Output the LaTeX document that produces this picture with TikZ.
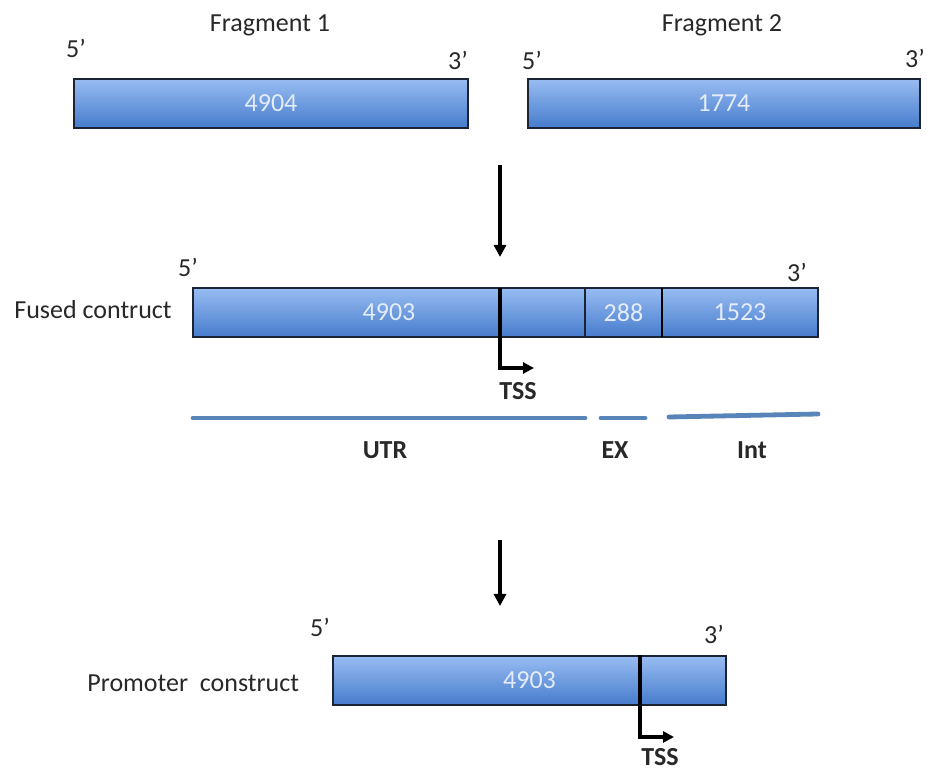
\documentclass[tikz,border=0pt]{standalone}
\usepackage{fontspec}
\setmainfont{Carlito}
\usetikzlibrary{arrows.meta,positioning}
\definecolor{segtop}{RGB}{152,188,242}
\definecolor{segbot}{RGB}{70,124,204}
\definecolor{segedge}{RGB}{28,36,52}
\definecolor{segtext}{RGB}{228,236,248}
\definecolor{track}{RGB}{88,132,186}
\definecolor{ink}{RGB}{40,40,40}

\tikzset{
  segment/.style={draw=segedge, line width=0.75pt, top color=segtop, bottom color=segbot,
    minimum height=24.5pt, inner sep=0pt, outer sep=0pt, text=segtext},
  tag/.style={inner sep=0pt, text=ink},
  feature/.style={inner sep=0pt, text=ink, font=\fontsize{13}{15}\selectfont\bfseries},
  tssmark/.style={line width=1.8pt, -{Triangle[length=5.5pt,width=5.5pt]}},
  divider/.style={line width=1.4pt},
  flow/.style={line width=1.8pt, -{Triangle[length=6pt,width=6pt]}},
  trackline/.style={track, line width=2.4pt, line cap=round}
}

\begin{document}
\begin{tikzpicture}[x=0.5pt, y=-0.5pt, font=\fontsize{13}{15}\selectfont]
  \useasboundingbox (0,0) rectangle (927,769);

  % two fragments
  \node[tag] (fragAname) at (270,25) {Fragment 1};
  \node[tag] (fragBname) at (722,25) {Fragment 2};
  \node[tag] (fragAfive) at (76,48) {5’};
  \node[tag] (fragAthree) at (458,60) {3’};
  \node[tag] (fragBfive) at (532,60) {5’};
  \node[tag] (fragBthree) at (915,58) {3’};
  \node[segment, minimum width=197pt] (fragA) at (271,103.5) {4904};
  \node[segment, minimum width=196pt] (fragB) at (724,103.5) {1774};

  \coordinate (flowAtop) at (500,165);
  \coordinate (flowAbot) at (500,257);
  \draw[flow] (flowAtop) -- (flowAbot);

  % fused construct
  \node[tag, anchor=west] (fusedname) at (14,310) {Fused contruct};
  \node[tag] (fusedfive) at (188,267) {5’};
  \node[tag] (fusedthree) at (797,272) {3’};
  \node[segment, minimum width=196pt] (utrseg) at (389,312.5) {4903};
  \node[segment, minimum width=38.5pt, right=0pt of utrseg] (exseg) {288};
  \node[segment, minimum width=78pt, right=0pt of exseg] (intseg) {1523};
  \draw[divider] (exseg.north east) -- (exseg.south east);

  \coordinate (tssA) at (500,288);
  \draw[tssmark] (tssA) -- ++(0,80) -- ++(34,0);
  \node[feature] (tssAname) at (518,391) {TSS};

  % regions below the fused construct
  \draw[trackline] (utrseg.south west |- 0,418) -- (utrseg.south east |- 0,418);
  \draw[trackline] (601,418) -- (645,418);
  \draw[trackline] (669,417) -- (intseg.south east |- 0,414);
  \node[feature] (utrname) at (385,450) {UTR};
  \node[feature] (exname) at (615,450) {EX};
  \node[feature] (intname) at (752,450) {Int};

  \coordinate (flowBtop) at (500,540);
  \coordinate (flowBbot) at (500,606);
  \draw[flow] (flowBtop) -- (flowBbot);

  % promoter construct
  \node[tag, anchor=west] (promname) at (87,683) {Promoter\ \ construct};
  \node[tag] (promfive) at (320,627) {5’};
  \node[tag] (promthree) at (714,634) {3’};
  \node[segment, minimum width=196.5pt] (prom) at (529.5,680.5) {4903};

  \coordinate (tssB) at (640,655);
  \draw[tssmark] (tssB) -- ++(0,82) -- ++(34,0);
  \node[feature] (tssBname) at (660,757) {TSS};
\end{tikzpicture}
\end{document}
